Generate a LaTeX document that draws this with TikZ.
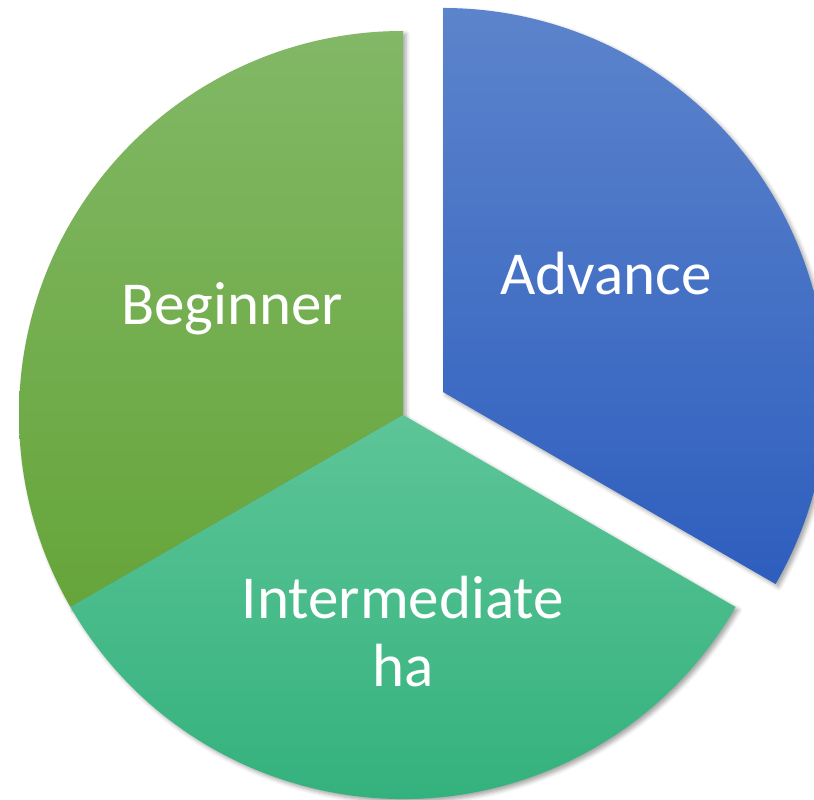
\documentclass[tikz,border=0pt]{standalone}
\usepackage{fontspec}
\setmainfont{Carlito}
\usetikzlibrary{shadows.blur}
\definecolor{begtop}{HTML}{82B866}
\definecolor{begbot}{HTML}{66A53A}
\definecolor{advtop}{HTML}{5C84CC}
\definecolor{advbot}{HTML}{2E5EBE}
\definecolor{inttop}{HTML}{5DC598}
\definecolor{intbot}{HTML}{2EAF79}
\tikzset{
  slice/.style={blur shadow={shadow xshift=3pt, shadow yshift=-3pt, shadow blur radius=4pt, shadow opacity=35}},
  lbl/.style={text=white, font=\fontsize{61}{68}\selectfont, inner sep=0pt, align=center}
}
\begin{document}
\begin{tikzpicture}[x=1pt,y=1pt]
\useasboundingbox (0,0) rectangle (814,800);
\clip (0,0) rectangle (814,800);
\coordinate (c) at (403,385);
\coordinate (ca) at (443,408);
% Beginner
\path[slice, top color=begtop, bottom color=begbot]
  (c) -- ++(90:384) arc[start angle=90, end angle=210, radius=384] -- cycle;
% Intermediate
\path[slice, top color=inttop, bottom color=intbot]
  (c) -- ++(210:384) arc[start angle=210, end angle=330, radius=384] -- cycle;
% Advance (exploded)
\path[slice, top color=advtop, bottom color=advbot]
  (ca) -- ++(-30:384) arc[start angle=-30, end angle=90, radius=384] -- cycle;
\node[lbl, anchor=base] (beg) at (232,475) {Beginner};
\node[lbl, anchor=base] (adv) at (606,505) {Advance};
\node[lbl, anchor=base] (int1) at (403,181) {Intermediate};
\node[lbl, anchor=base] (int2) at (403,113) {ha};
\end{tikzpicture}
\end{document}
